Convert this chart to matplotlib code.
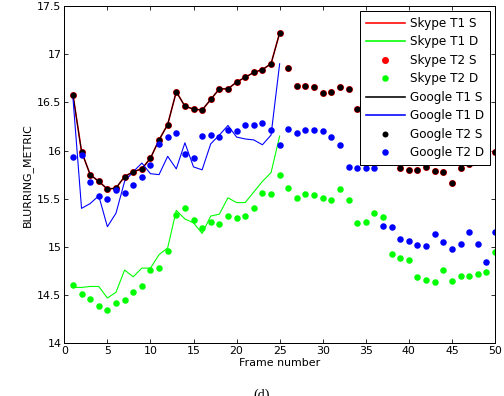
import numpy as np
import matplotlib
matplotlib.use('Agg')
import matplotlib.pyplot as plt
from matplotlib.ticker import FormatStrFormatter

frames = np.arange(1, 51)
frames_t1 = np.arange(1, 26)

# T2 "S" metric (Skype and Google coincide)
google_t2_s = [16.58, 15.99, 15.75, 15.68, 15.60, 15.61, 15.73, 15.78, 15.81, 15.92,
               16.11, 16.27, 16.61, 16.46, 16.43, 16.42, 16.53, 16.64, 16.64, 16.71,
               16.76, 16.81, 16.84, 16.90, 17.22, 16.86, 16.67, 16.67, 16.66, 16.60,
               16.61, 16.66, 16.64, 16.43, 16.30, 16.12, 16.02, 15.96, 15.82, 15.80,
               15.80, 15.83, 15.79, 15.78, 15.66, 15.82, 15.86, 15.94, 15.96, 15.99]
skype_t2_s = list(google_t2_s)

google_t2_d = [15.93, 15.95, 15.67, 15.53, 15.50, 15.59, 15.56, 15.64, 15.73, 15.85,
               16.07, 16.14, 16.18, 15.96, 15.92, 16.15, 16.16, 16.14, 16.21, 16.20,
               16.27, 16.27, 16.29, 16.21, 16.06, 16.22, 16.18, 16.21, 16.21, 16.20,
               16.14, 16.06, 15.83, 15.82, 15.82, 15.82, 15.22, 15.21, 15.08, 15.06,
               15.02, 15.01, 15.13, 15.05, 14.98, 15.03, 15.15, 15.03, 14.84, 15.16]

skype_t2_d = [14.61, 14.51, 14.46, 14.39, 14.35, 14.42, 14.45, 14.53, 14.59, 14.76,
              14.78, 14.96, 15.33, 15.40, 15.28, 15.20, 15.26, 15.24, 15.32, 15.30,
              15.32, 15.40, 15.56, 15.55, 15.75, 15.61, 15.51, 15.55, 15.54, 15.51,
              15.49, 15.60, 15.49, 15.25, 15.26, 15.35, 15.31, 14.93, 14.89, 14.86,
              14.69, 14.66, 14.64, 14.76, 14.65, 14.70, 14.70, 14.72, 14.74, 14.95]

# T1 lines (frames 1-25)
google_t1_s = google_t2_s[:25]
skype_t1_s = skype_t2_s[:25]
skype_t1_d = [14.58, 14.58, 14.59, 14.59, 14.47, 14.53, 14.76, 14.69, 14.78, 14.78,
              14.92, 14.99, 15.38, 15.29, 15.25, 15.14, 15.32, 15.34, 15.51, 15.46,
              15.46, 15.57, 15.68, 15.77, 16.15]
google_t1_d = [16.55, 15.40, 15.45, 15.53, 15.21, 15.35, 15.68, 15.78, 15.87, 15.76,
               15.75, 15.94, 15.81, 16.08, 15.83, 15.80, 16.07, 16.16, 16.26, 16.14,
               16.12, 16.11, 16.06, 16.16, 16.90]

fs = 11
fig = plt.figure(figsize=(7, 5.5), dpi=72)
ax = fig.add_axes([0.1276, 0.133, 0.9821 - 0.1276, 0.985 - 0.133])

ax.plot(frames_t1, skype_t1_s, color='red', lw=1.6, label='Skype T1 S')
ax.plot(frames_t1, skype_t1_d, color='#00ff00', lw=1.1, label='Skype T1 D')
ax.plot(frames, skype_t2_s, 'o', color='red', ms=7, mew=0, label='Skype T2 S')
ax.plot(frames, skype_t2_d, 'o', color='#00ff00', ms=6.5, mew=0, label='Skype T2 D')
ax.plot(frames_t1, google_t1_s, color='black', lw=1, label='Google T1 S')
ax.plot(frames_t1, google_t1_d, color='blue', lw=1.1, label='Google T1 D')
ax.plot(frames, google_t2_s, 'o', color='black', ms=6, mew=0, label='Google T2 S')
ax.plot(frames, google_t2_d, 'o', color='blue', ms=6.5, mew=0, label='Google T2 D')

ax.set_xlim(0, 50)
ax.set_ylim(14, 17.5)
ax.set_xticks(np.arange(0, 51, 5))
ax.set_yticks(np.arange(14, 17.51, 0.5))
ax.yaxis.set_major_formatter(FormatStrFormatter('%g'))
ax.tick_params(direction='in', top=True, right=True, length=4, labelsize=fs, pad=3)
for s in ax.spines.values():
    s.set_linewidth(1)

ax.set_xlabel('Frame number', fontsize=fs, labelpad=2)
ax.set_ylabel('BLURRING_METRIC', fontsize=fs, labelpad=4)

leg = ax.legend(loc='upper right', fontsize=12, numpoints=1, handlelength=3.3,
                handletextpad=0.4, labelspacing=0.46, borderaxespad=0.45,
                borderpad=0.45, fancybox=False, framealpha=1, edgecolor='black')
leg.get_frame().set_linewidth(1)
for h in leg.get_lines():
    h.set_linewidth(1.6)

fig.text(0.52, 0.02, '(d)', fontsize=14, family='Liberation Serif', ha='center', va='top')

fig.savefig('out.png', dpi=72)
